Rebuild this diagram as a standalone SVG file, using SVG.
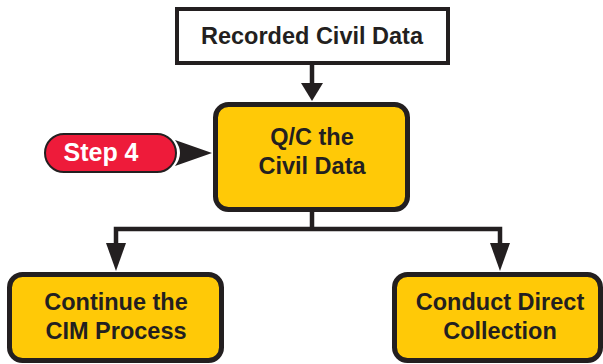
<svg xmlns="http://www.w3.org/2000/svg" width="603" height="364" viewBox="0 0 603 364">
<style>
.box{fill:#FFC907;stroke:#231F20;stroke-width:5}
.wbox{fill:#fff;stroke:#231F20;stroke-width:4}
.t{font-family:"Liberation Sans",Arial,sans-serif;font-weight:bold;font-size:23.5px;fill:#231F20;text-anchor:middle}
.line{fill:none;stroke:#231F20;stroke-width:4.5}
.head{fill:#231F20}
</style>
<rect width="603" height="364" fill="#fff"/>
<g id="connectors">
<line class="line" x1="312" y1="63" x2="312" y2="88"/>
<polygon class="head" points="301,83 323,83 312,101"/>
<polyline class="line" points="116,249 116,229 500,229 500,249"/>
<line class="line" x1="312" y1="212" x2="312" y2="229"/>
<polygon class="head" points="106,243 126,243 116,271"/>
<polygon class="head" points="490,243 510,243 500,271"/>
<path class="head" d="M175,140 L212,153 L175,166 Q185,153 175,140 Z"/>
</g>
<g id="recorded">
<rect class="wbox" x="177" y="9" width="271" height="54"/>
<text class="t" x="312" y="44">Recorded Civil Data</text>
</g>
<g id="qc">
<rect class="box" x="215.5" y="104.5" width="192" height="105" rx="13"/>
<text class="t" x="312" y="145">Q/C the</text>
<text class="t" x="312" y="174">Civil Data</text>
</g>
<g id="step4">
<rect x="45" y="134" width="131" height="38" rx="19" fill="#EE1B3A" stroke="#231F20" stroke-width="2"/>
<text x="101" y="161" font-family="Liberation Sans,Arial,sans-serif" font-weight="bold" font-size="25" fill="#fff" text-anchor="middle">Step 4</text>
</g>
<g id="continue">
<rect class="box" x="9.5" y="274.5" width="212" height="86" rx="13"/>
<text class="t" x="116" y="310">Continue the</text>
<text class="t" x="116" y="339">CIM Process</text>
</g>
<g id="conduct">
<rect class="box" x="394.5" y="274.5" width="206" height="86" rx="13"/>
<text class="t" x="500" y="310">Conduct Direct</text>
<text class="t" x="500" y="339">Collection</text>
</g>
</svg>
